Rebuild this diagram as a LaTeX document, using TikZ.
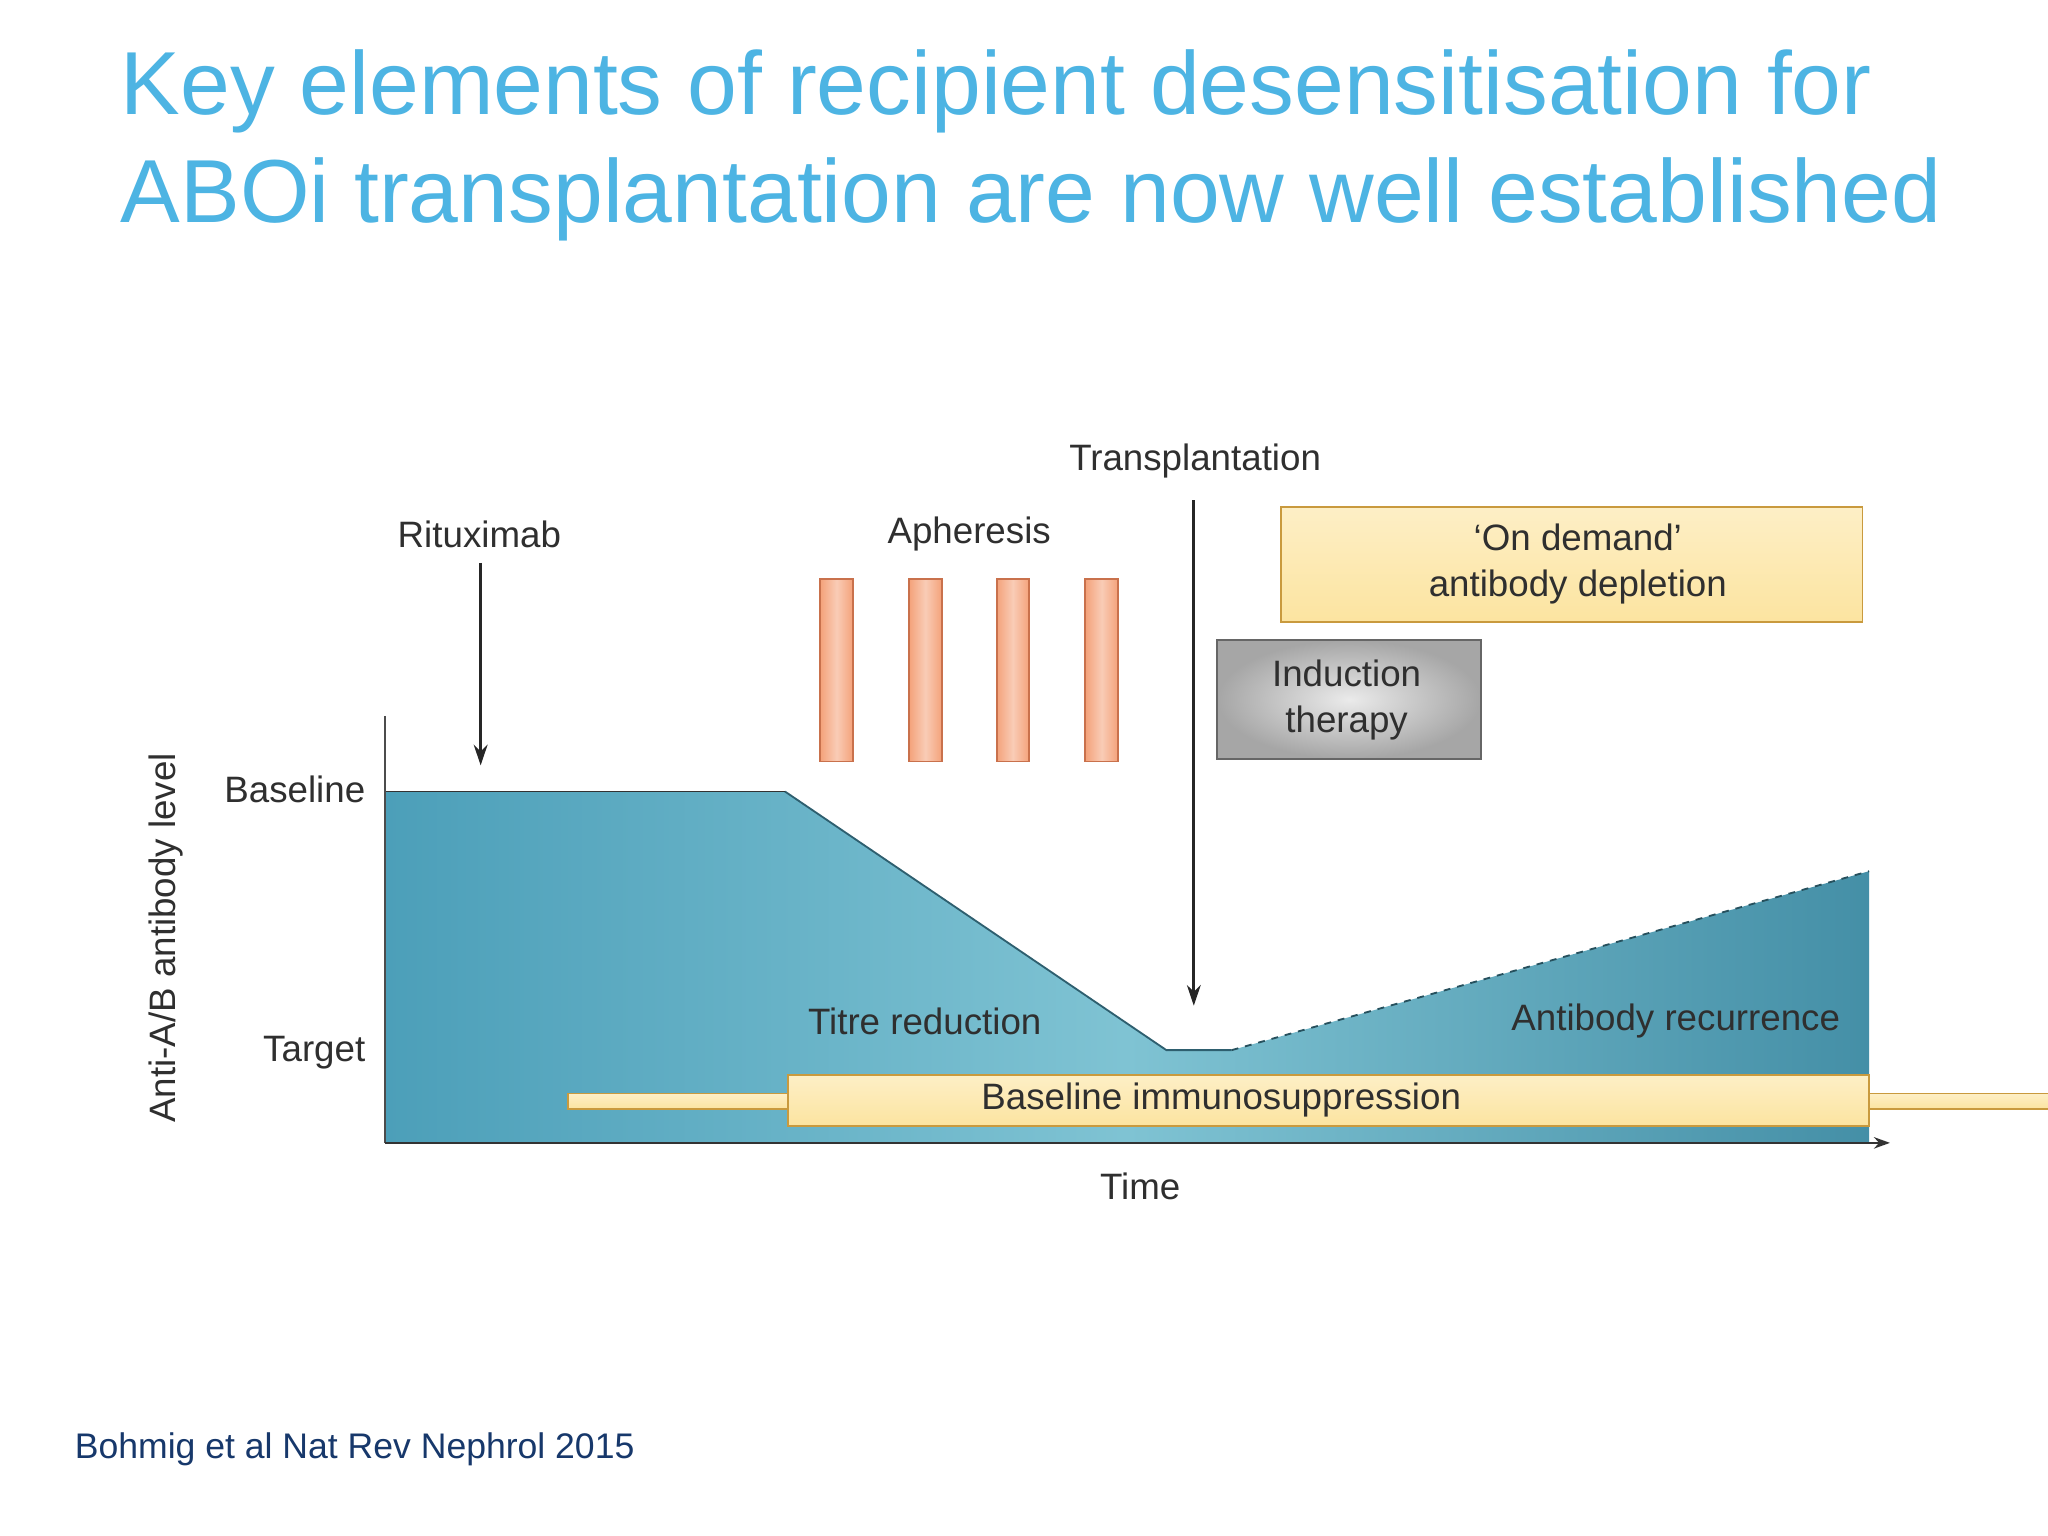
\documentclass[tikz,border=0pt]{standalone}
\usepackage{fontspec}
\setmainfont{Liberation Sans}
\usetikzlibrary{arrows.meta}
\definecolor{ttl}{HTML}{4DB4E3}
\definecolor{cite}{HTML}{17386B}
\definecolor{txt}{HTML}{2F2F2F}
\definecolor{tealA}{HTML}{4C9FB9}
\definecolor{tealB}{HTML}{7FC3D3}
\definecolor{ylw}{HTML}{FCE4A0}
\definecolor{ylwb}{HTML}{C99A3E}
\definecolor{org}{HTML}{F4A27A}
\definecolor{orgb}{HTML}{C9714C}
\tikzset{
  lbl/.style={text=txt,font=\fontsize{16}{18}\selectfont,inner sep=0pt},
  ybox/.style={draw=ylwb,line width=0.8pt,top color=ylw!60!white,bottom color=ylw,middle color=ylw!80,align=center,text=txt,font=\fontsize{16}{18}\selectfont},
  abar/.style={draw=orgb,line width=0.8pt,left color=org,right color=org,middle color=org!55!white},
  arr/.style={-{Stealth[length=9pt,width=6pt]},line width=1.3pt,black!85},
}
\begin{document}
\begin{tikzpicture}[x=0.02cm,y=-0.02cm]
\useasboundingbox (0,0) rectangle (1568,1176);
\fill[white] (0,0) rectangle (1568,1176);
\node[anchor=base west,text=ttl,font=\fontsize{39}{44}\selectfont,inner sep=0pt] (t1) at (92,88) {Key elements of recipient desensitisation for};
\node[anchor=base west,text=ttl,font=\fontsize{39}{44}\selectfont,inner sep=0pt] (t2) at (92,170) {ABOi transplantation are now well established};
% area
\shade[left color=tealA,right color=tealA!90!black,middle color=tealB] (295,606) -- (601,606) -- (893,804) -- (943,804) -- (1431,667) -- (1431,875) -- (295,875) -- cycle;
\draw[tealA!60!black,line width=0.8pt] (601,606) -- (893,804) -- (943,804);
\draw[tealA!50!black,dashed,line width=0.8pt] (943,804) -- (1431,667);
\draw[black!80,line width=0.8pt] (295,606) -- (601,606);
% axes
\coordinate (o) at (295,875);
\coordinate (ytop) at (295,548);
\coordinate (xend) at (1447,875);
\draw[black!70,line width=0.8pt] (ytop) -- (o);
\draw[black!80,line width=1pt,-{Stealth[length=7pt,width=5pt]}] (o) -- (xend);
% bars
\node[ybox,minimum width=828\pgflinewidth,anchor=center] (bis) at (1017,843) {};
\draw[ybox] (603,823) rectangle (1431,862);
\node[lbl] (bist) at (935,842) {Baseline immunosuppression};
\foreach \x in {628,696,763,831} \draw[abar] (\x,443) rectangle (\x+25,583);
\shade[draw=black!60,line width=0.8pt,inner color=white!92!black,outer color=black!35] (932,490) rectangle (1134,581);
\node[lbl,align=center] (ind) at (1031,536) {Induction\\[2pt]therapy};
\draw[ybox] (981,388) rectangle (1426,476);
\node[lbl,align=center] (ond) at (1208,432) {‘On demand’\\[2pt]antibody depletion};
% labels
\node[lbl] (tr) at (915,353) {Transplantation};
\coordinate (tre) at (914,770);
\draw[arr] (914,383) -- (tre);
\node[lbl] (rit) at (367,409) {Rituximab};
\coordinate (rite) at (368,586);
\draw[arr] (368,431) -- (rite);
\node[lbl] (aph) at (742,409) {Apheresis};
\node[lbl,anchor=east] (bl) at (280,604) {Baseline};
\node[lbl,anchor=east] (tg) at (280,806) {Target};
\node[lbl,rotate=90] (yl) at (127,718) {Anti-A/B antibody level};
\node[lbl] (tm) at (873,908) {Time};
\node[lbl] (titr) at (708,782) {Titre reduction};
\node[lbl] (rec) at (1283,782) {Antibody recurrence};
\node[anchor=base west,text=cite,font=\fontsize{15.5}{18}\selectfont,inner sep=0pt] (ct) at (57,1117) {Bohmig et al Nat Rev Nephrol 2015};
\end{tikzpicture}
\end{document}
